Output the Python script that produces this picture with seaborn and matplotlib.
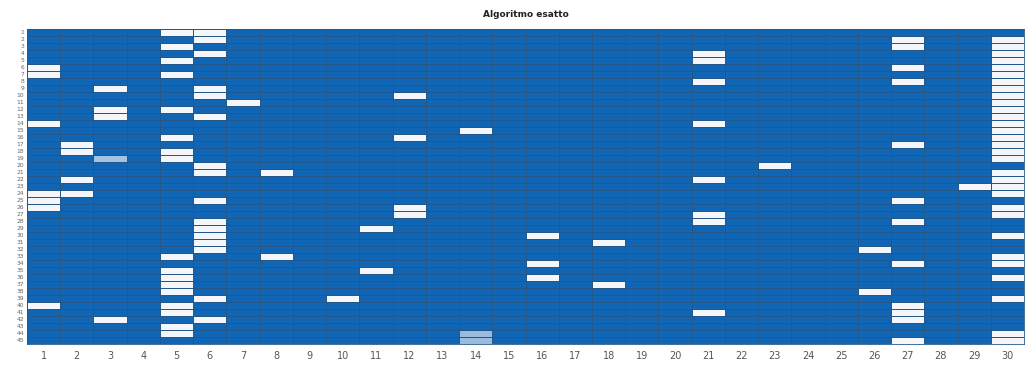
import numpy as np
import pandas as pd
import seaborn as sns
import matplotlib
matplotlib.use("Agg")
import matplotlib.pyplot as plt
from matplotlib.colors import LinearSegmentedColormap

# ---- data ----
n_rows = 45
column_labels = [str(i) for i in range(1, 31)]
row_labels = [str(i) for i in range(1, n_rows + 1)]

# rows (0-indexed) that are white (value 1) in each of the 30 columns
white_rows_by_column = [
    [5, 6, 13, 23, 24, 25, 39],                                   # 1
    [16, 17, 21, 23],                                             # 2
    [8, 11, 12, 41],                                              # 3
    [],                                                           # 4
    [0, 2, 4, 6, 11, 15, 17, 18, 32, 34, 35, 36, 37, 39, 40, 42, 43],  # 5
    [0, 1, 3, 8, 9, 12, 19, 20, 24, 27, 28, 29, 30, 31, 38, 41],  # 6
    [10],                                                         # 7
    [20, 32],                                                     # 8
    [],                                                           # 9
    [38],                                                         # 10
    [28, 34],                                                     # 11
    [9, 15, 25, 26],                                              # 12
    [],                                                           # 13
    [14],                                                         # 14
    [],                                                           # 15
    [29, 33, 35],                                                 # 16
    [],                                                           # 17
    [30, 36],                                                     # 18
    [],                                                           # 19
    [],                                                           # 20
    [3, 4, 7, 13, 21, 26, 27, 40],                                # 21
    [],                                                           # 22
    [19],                                                         # 23
    [],                                                           # 24
    [],                                                           # 25
    [31, 37],                                                     # 26
    [1, 2, 5, 7, 16, 24, 27, 33, 39, 40, 41, 44],                 # 27
    [],                                                           # 28
    [22],                                                         # 29
    list(range(1, 19)) + [20, 21, 22, 23, 25, 26, 29, 32, 33, 35, 38, 43, 44],  # 30
]

# cells with an intermediate (light blue) value: (row, column index, value)
partial_cells = [(18, 2, 0.65), (43, 13, 0.6), (44, 13, 0.6)]

title_text = "Algoritmo esatto"

# ---- build matrix ----
matrix = np.zeros((n_rows, len(column_labels)))
for c, rows in enumerate(white_rows_by_column):
    for r in rows:
        matrix[r, c] = 1.0
for r, c, v in partial_cells:
    matrix[r, c] = v
df = pd.DataFrame(matrix, index=row_labels, columns=column_labels)

# ---- plot ----
sns.set_theme(style="white")
plt.rcParams['font.family'] = ['DejaVu Sans']

fig = plt.figure(figsize=(10.26, 3.70), dpi=100)
ax = fig.add_axes([27 / 1026, 1 - 344 / 370, (1024 - 27) / 1026, (344 - 29) / 370])

cmap = LinearSegmentedColormap.from_list("bw", ["#1065b5", "#f4f6fa"])
sns.heatmap(df, ax=ax, cmap=cmap, vmin=0, vmax=1, cbar=False,
            linewidths=0.4, linecolor="#24578a",
            xticklabels=column_labels, yticklabels=row_labels)

ax.tick_params(axis="both", length=0, pad=3)
ax.tick_params(axis="x", labelsize=7, colors="#555555", pad=5)
ax.tick_params(axis="y", labelsize=4.3, colors="#666666", pad=2)
plt.setp(ax.get_xticklabels(), rotation=0)
plt.setp(ax.get_yticklabels(), rotation=0)
for s in ax.spines.values():
    s.set_visible(True)
    s.set_color("#24578a")
    s.set_linewidth(0.6)

ax.set_title(title_text, fontsize=6.5, fontweight="bold", color="#222222", pad=9)
ax.set_xlabel("")
ax.set_ylabel("")

fig.savefig("out.png", dpi=100)
